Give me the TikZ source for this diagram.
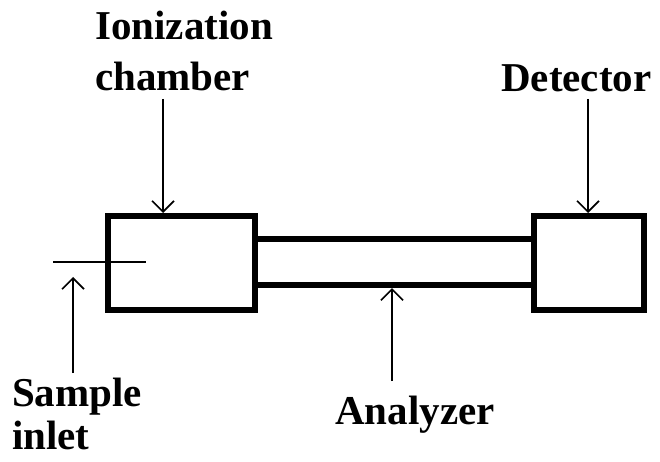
\documentclass[tikz,border=0pt]{standalone}
\usepackage{fontspec}
\setmainfont{Liberation Serif}
\usetikzlibrary{arrows.meta}
\begin{document}
\begin{tikzpicture}[x=1bp,y=-1bp,
  lbl/.style={font=\bfseries\fontsize{41bp}{51bp}\selectfont, inner sep=0pt, align=left},
  unit/.style={draw, line width=6bp, minimum width=#1, minimum height=94bp, inner sep=0pt},
  wall/.style={line width=6bp},
  arr/.style={line width=1.6bp, -{Straight Barb[length=11bp,width=22bp,line width=1.6bp]}},
  thin/.style={line width=1.6bp}]
\useasboundingbox (0,0) rectangle (660,462);
% units
\node[unit=147bp] (lbox) at (181,263) {};
\node[unit=110.5bp] (rbox) at (588.75,263) {};
\node[minimum width=279bp, minimum height=46bp, inner sep=0pt] (tube) at (394,262) {};
\draw[wall] (lbox.east |- tube.north) -- (rbox.west |- tube.north);
\draw[wall] (lbox.east |- tube.south) -- (rbox.west |- tube.south);
% labels
\node[lbl, anchor=base west] (ion) at (95,91) {Ionization\\chamber};
\node[lbl, anchor=base west] (det) at (501,92) {Detector};
\node[lbl, anchor=base west, font=\bfseries\fontsize{41bp}{43bp}\selectfont] (smp) at (12,449) {Sample\\inlet};
\node[lbl, anchor=base west] (ana) at (335,424) {Analyzer};
% sample inlet line
\coordinate (inA) at (53,262);
\coordinate (inB) at (146,262);
\draw[thin] (inA) -- (inB);
% arrow start points
\coordinate (ionS) at (163,99);
\coordinate (detS) at (588,99);
\coordinate (smpS) at (73,373);
\coordinate (smpE) at (73,277);
\coordinate (anaS) at (392,381);
\draw[arr] (ionS) -- (ionS |- lbox.north);
\draw[arr] (detS) -- (detS |- rbox.north);
\draw[arr] (smpS) -- (smpE);
\draw[arr] (anaS) -- ([yshift=-3bp]anaS |- tube.south);
\end{tikzpicture}
\end{document}
